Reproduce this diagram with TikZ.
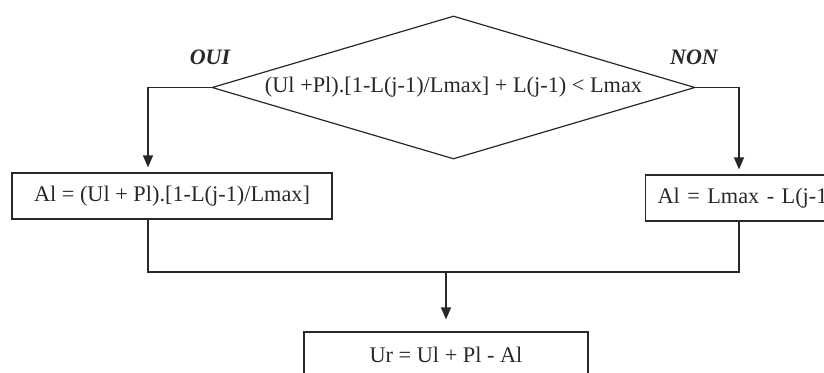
\documentclass[tikz,border=0pt]{standalone}
\usepackage{fontspec}
\setmainfont{Liberation Serif}
\usetikzlibrary{shapes.geometric,arrows.meta,calc}
\definecolor{ink}{RGB}{40,40,40}
\tikzset{
  box/.style={draw=ink, line width=1.2pt, rectangle, inner sep=0pt, text=ink,
    font=\fontsize{22.3}{26}\selectfont},
  cond/.style={draw=ink, line width=1.2pt, diamond, aspect=3.38, inner sep=0pt,
    minimum width=483pt, minimum height=143pt, text=ink,
    font=\fontsize{22.3}{26}\selectfont},
  lab/.style={text=ink, inner sep=0pt, font=\fontsize{22}{26}\selectfont\bfseries\itshape},
  conn/.style={draw=ink, line width=1.2pt},
  arr/.style={conn, -{Triangle[width=10pt,length=12pt]}},
}
\begin{document}
\begin{tikzpicture}[x=1pt,y=-1pt]
\path[use as bounding box] (0,0) rectangle (824,372);
\clip (0,0) rectangle (824,372);
\node[cond] (c) at (453.5,87.5) {(Ul +Pl).[1-L(j-1)/Lmax] + L(j-1) < Lmax};
\node[lab] (oui) at (210,57) {OUI};
\node[lab] (non) at (694,57) {NON};
\node[box, minimum width=320pt, minimum height=46pt] (lbox) at (172,196) {Al = (Ul + Pl).[1-L(j-1)/Lmax]};
\node[box, anchor=west, minimum height=46pt, text width=206pt, inner xsep=12pt, align=left] (rbox) at (645,198) {Al = Lmax - L(j-1)};
\node[box, minimum width=284pt, minimum height=46pt] (bbox) at (446,355) {Ur = Ul + Pl - Al};
\coordinate (jl) at (148,272);
\coordinate (jr) at (739,272);
\coordinate (jm) at (446,272);
\draw[arr, shorten >=5pt] (c.west) -| (lbox.north -| jl);
\draw[arr, shorten >=5pt] (c.east) -| (rbox.north -| jr);
\draw[conn] (lbox.south -| jl) -- (jl) -- (jr) -- (rbox.south -| jr);
\draw[arr, shorten >=12pt] (jm) -- (bbox.north);
\end{tikzpicture}
\end{document}
